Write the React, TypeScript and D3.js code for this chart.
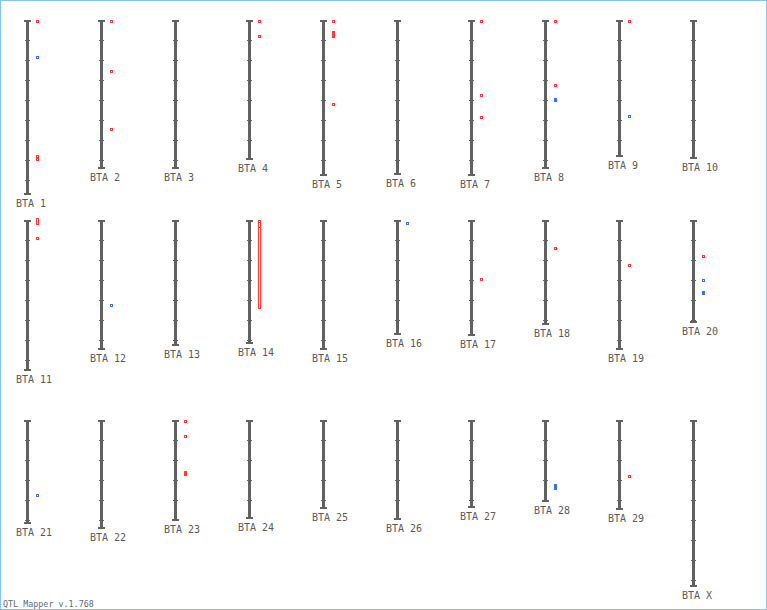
import React from 'react';
import * as d3 from 'd3';

// chromosome names, laid out 10 per row
const chromosomes = [
  'BTA 1', 'BTA 2', 'BTA 3', 'BTA 4', 'BTA 5', 'BTA 6', 'BTA 7', 'BTA 8', 'BTA 9', 'BTA 10',
  'BTA 11', 'BTA 12', 'BTA 13', 'BTA 14', 'BTA 15', 'BTA 16', 'BTA 17', 'BTA 18', 'BTA 19', 'BTA 20',
  'BTA 21', 'BTA 22', 'BTA 23', 'BTA 24', 'BTA 25', 'BTA 26', 'BTA 27', 'BTA 28', 'BTA 29', 'BTA X',
];

// map length (cM)
const lengths = [
  174, 148, 148, 139, 155, 154, 155, 148, 136, 138,
  150, 129, 125, 123, 129, 114, 115, 104, 129, 102,
  103, 108, 100, 98, 88, 99, 87, 81, 89, 166,
];

// QTL hits: [chromosome, start cM, end cM, trait group]
const qtls: [string, number, number, 'up' | 'down'][] = [
  ['BTA 1', 1, 1, 'up'], ['BTA 1', 37, 37, 'down'], ['BTA 1', 136, 136, 'up'], ['BTA 1', 139, 139, 'up'],
  ['BTA 2', 1, 1, 'up'], ['BTA 2', 51, 51, 'up'], ['BTA 2', 109, 109, 'up'],
  ['BTA 4', 1, 1, 'up'], ['BTA 4', 16, 16, 'up'],
  ['BTA 5', 1, 1, 'up'], ['BTA 5', 12, 12, 'up'], ['BTA 5', 13, 13, 'up'], ['BTA 5', 14, 14, 'up'],
  ['BTA 5', 15, 15, 'up'], ['BTA 5', 16, 16, 'up'], ['BTA 5', 84, 84, 'up'],
  ['BTA 7', 1, 1, 'up'], ['BTA 7', 75, 75, 'up'], ['BTA 7', 97, 97, 'up'],
  ['BTA 8', 1, 1, 'up'], ['BTA 8', 65, 65, 'up'], ['BTA 8', 80, 80, 'up'], ['BTA 8', 79, 79, 'down'],
  ['BTA 9', 1, 1, 'up'], ['BTA 9', 96, 96, 'down'],
  ['BTA 11', -1, 3, 'up'], ['BTA 11', 18, 18, 'up'],
  ['BTA 12', 85, 85, 'down'],
  ['BTA 14', 1, 87, 'up'], ['BTA 14', 1, 1, 'up'], ['BTA 14', 1, 6, 'up'],
  ['BTA 16', 3, 3, 'down'],
  ['BTA 17', 59, 59, 'up'],
  ['BTA 18', 28, 28, 'up'],
  ['BTA 19', 45, 45, 'up'],
  ['BTA 20', 36, 36, 'up'], ['BTA 20', 60, 60, 'down'], ['BTA 20', 72, 72, 'down'], ['BTA 20', 73, 73, 'down'],
  ['BTA 21', 75, 75, 'down'],
  ['BTA 23', 1, 1, 'up'], ['BTA 23', 16, 16, 'up'], ['BTA 23', 52, 52, 'up'], ['BTA 23', 53, 53, 'up'],
  ['BTA 23', 54, 54, 'up'],
  ['BTA 28', 65, 65, 'down'], ['BTA 28', 66, 66, 'down'], ['BTA 28', 67, 67, 'down'], ['BTA 28', 68, 68, 'down'],
  ['BTA 29', 56, 56, 'up'],
];

const W = 767;
const H = 610;
const perRow = 10;
const tickStep = 20;
const barColor = '#616161';
const colors = { up: '#ff3b3b', down: '#3f6fe0' };

const col = d3.scalePoint<number>().domain(d3.range(perRow)).range([26, 26 + 9 * 74]);
const rowTop = d3.scalePoint<number>().domain([0, 1, 2]).range([20, 420]);

const App: React.FC = () => {
  return (
    <svg width={W} height={H} style={{ position: 'absolute', left: 0, top: 0 }} shapeRendering="crispEdges">
      <rect x={0.5} y={0.5} width={W - 1} height={H - 1} fill="#fff" stroke="#8dc3ea" />
      {chromosomes.map((name, i) => {
        const len = lengths[i];
        const x0 = col(i % perRow) as number;
        const top = rowTop(Math.floor(i / perRow)) as number;
        const y = d3.scaleLinear().domain([0, len]).range([top, top + len]);
        const ticks = d3.range(tickStep, len, tickStep);
        const hits = qtls.filter(q => q[0] === name);
        return (
          <g key={name}>
            <rect x={x0} y={y(0)} width={3} height={len + 1} fill={barColor} />
            <rect x={x0 - 2} y={y(0)} width={7} height={2} fill={barColor} />
            <rect x={x0 - 2} y={y(len) - 1} width={7} height={2} fill={barColor} />
            {ticks.map(t => (
              <rect key={t} x={x0 - 1} y={y(t)} width={5} height={1} fill={barColor} />
            ))}
            {hits.map((q, k) => (
              <rect
                key={k}
                x={x0 + 10.5}
                y={y(q[1]) - 0.5}
                width={2}
                height={y(q[2]) - y(q[1]) + 2}
                fill="none"
                stroke={colors[q[3]]}
                strokeWidth={1}
              />
            ))}
            <text
              x={x0 - 10}
              y={y(len) + 13}
              fontFamily="'DejaVu Sans Mono', monospace"
              fontSize={10}
              fill="#5a5a5a"
            >
              {name}
            </text>
          </g>
        );
      })}
      <text x={3} y={607} fontFamily="'DejaVu Sans Mono', monospace" fontSize={8.4} fill="#5d6b78">
        QTL Mapper v.1.768
      </text>
    </svg>
  );
};

export default App;
